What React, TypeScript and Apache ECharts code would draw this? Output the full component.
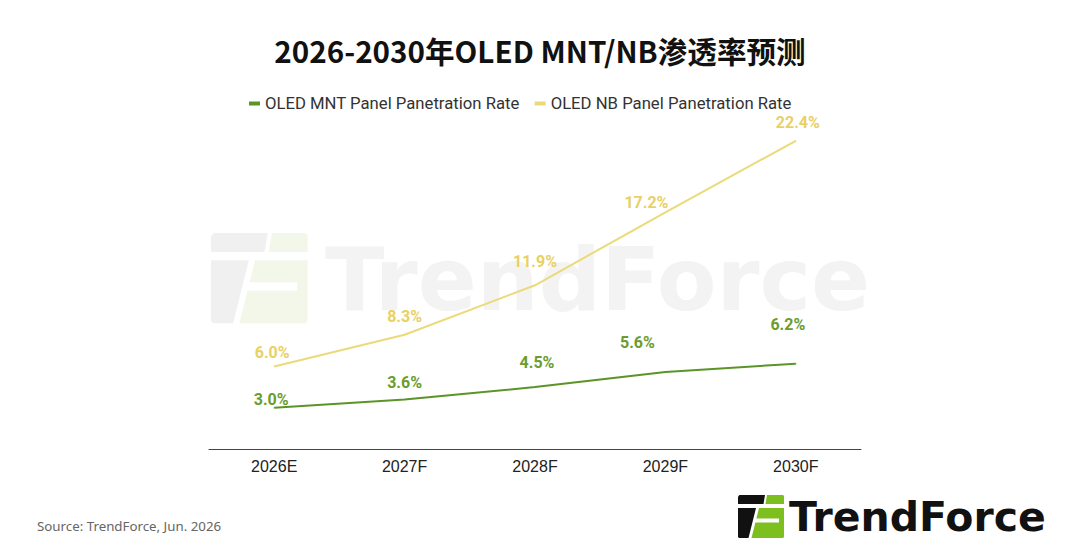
import React, { useEffect, useRef } from "react";
import * as echarts from "echarts";

const categories = ["2026E", "2027F", "2028F", "2029F", "2030F"];
const mntValues = [3.0, 3.6, 4.5, 5.6, 6.2];
const nbValues = [6.0, 8.3, 11.9, 17.2, 22.4];
const seriesNames = ["OLED MNT Panel Panetration Rate", "OLED NB Panel Panetration Rate"];

// label offsets (layout only) relative to each point centre
const mntLabelOffsets = [[-3, -8], [0, -17], [2, -25], [-28, -29], [-8, -39]];
const nbLabelOffsets = [[-2, -14], [0, -18], [0, -24], [-19, -10], [2, -18]];

const MNT_LINE = "#5b9427";
const MNT_LABEL = "#6b9c2e";
const NB_LINE = "#ebda78";
const NB_LABEL = "#e9d064";

function logoGroup(x: number, y: number, s: number, black: string, green: string, gap: string, z: number) {
  const poly = (pts: number[][], fill: string) => ({
    type: "polygon",
    shape: { points: pts },
    style: { fill },
    z,
  });
  return {
    type: "group",
    x,
    y,
    scaleX: s,
    scaleY: s,
    silent: true,
    children: [
      poly([[0, 1.5], [1.5, 0], [27, 0], [25.5, 9], [0, 9]], black),
      poly([[0, 13], [18, 13], [10.5, 43], [1, 43], [0, 42]], black),
      poly([[29, 0], [45, 0], [46, 1], [46, 9], [27.5, 9]], green),
      poly([[21, 13], [46, 13], [46, 42], [45, 43], [13.5, 43]], green),
      poly([[17, 23.5], [41, 23.5], [41, 27.5], [16, 27.5]], gap),
    ],
  };
}

export default function App() {
  const ref = useRef<HTMLDivElement>(null);
  useEffect(() => {
    if (!ref.current) return;
    const chart = echarts.init(ref.current, null, { renderer: "svg" });
    const mkData = (vals: number[], offs: number[][]) =>
      vals.map((v, i) => ({ value: v, label: { offset: offs[i] } }));
    chart.setOption({
      animation: false,
      backgroundColor: "#ffffff",
      title: {
        text: "2026-2030年OLED MNT/NB渗透率预测",
        left: "center",
        top: 31,
        textStyle: {
          fontFamily: "Noto Sans CJK SC",
          fontWeight: 700,
          fontSize: 29.6,
          color: "#111111",
        },
      },
      legend: {
        left: 244,
        top: 90,
        icon: "rect",
        itemWidth: 11,
        itemHeight: 4,
        itemGap: 15,
        textStyle: { fontFamily: "Roboto", fontSize: 16.7, color: "#333333" },
        data: seriesNames,
      },
      grid: { left: 209, right: 219, top: 105, bottom: 111 },
      xAxis: {
        type: "category",
        data: categories,
        boundaryGap: true,
        axisLine: { lineStyle: { color: "#444444", width: 1 } },
        axisTick: { show: false },
        axisLabel: {
          fontFamily: "Liberation Sans",
          fontSize: 16,
          color: "#222222",
          margin: 9,
        },
      },
      yAxis: {
        type: "value",
        min: 0,
        max: 25,
        show: false,
        splitLine: { show: false },
      },
      graphic: [
        { type: "rect", shape: { x: 0, y: 0, width: 1080, height: 7 }, style: { fill: "#3f7a21" }, z: 10 },
        logoGroup(211, 233, 2.1, "#f0f0f0", "#f3f7ea", "#ffffff", -10),
        {
          type: "text",
          x: 325,
          y: 280,
          z: -10,
          silent: true,
          style: {
            text: "TrendForce",
            font: "700 87px 'DejaVu Sans'",
            fill: "#f3f3f3",
            verticalAlign: "middle",
          },
        },
        logoGroup(738, 495, 1, "#111111", "#7cbf1f", "#ffffff", 10),
        {
          type: "text",
          x: 789,
          y: 517,
          z: 10,
          style: {
            text: "TrendForce",
            font: "700 41px 'DejaVu Sans'",
            fill: "#111111",
            verticalAlign: "middle",
          },
        },
        {
          type: "text",
          x: 37,
          y: 526,
          z: 10,
          style: {
            text: "Source: TrendForce, Jun. 2026",
            font: "13.3px 'Noto Sans'",
            fill: "#666666",
            verticalAlign: "middle",
          },
        },
      ],
      series: [
        {
          name: seriesNames[0],
          type: "line",
          data: mkData(mntValues, mntLabelOffsets),
          color: MNT_LINE,
          symbol: "circle",
          symbolSize: 1,
          lineStyle: { color: MNT_LINE, width: 2 },
          itemStyle: { color: MNT_LINE },
          label: {
            show: true,
            position: "inside",
            formatter: (p: any) => p.value.toFixed(1) + "%",
            fontFamily: "Roboto",
            fontWeight: 700,
            fontSize: 16,
            color: MNT_LABEL,
          },
          z: 3,
        },
        {
          name: seriesNames[1],
          type: "line",
          data: mkData(nbValues, nbLabelOffsets),
          color: NB_LINE,
          symbol: "circle",
          symbolSize: 1,
          lineStyle: { color: NB_LINE, width: 2 },
          itemStyle: { color: NB_LINE },
          label: {
            show: true,
            position: "inside",
            formatter: (p: any) => p.value.toFixed(1) + "%",
            fontFamily: "Roboto",
            fontWeight: 700,
            fontSize: 16,
            color: NB_LABEL,
          },
          z: 3,
        },
      ],
    });
    return () => chart.dispose();
  }, []);
  return <div ref={ref} style={{ width: 1080, height: 560, margin: -8 }} />;
}
